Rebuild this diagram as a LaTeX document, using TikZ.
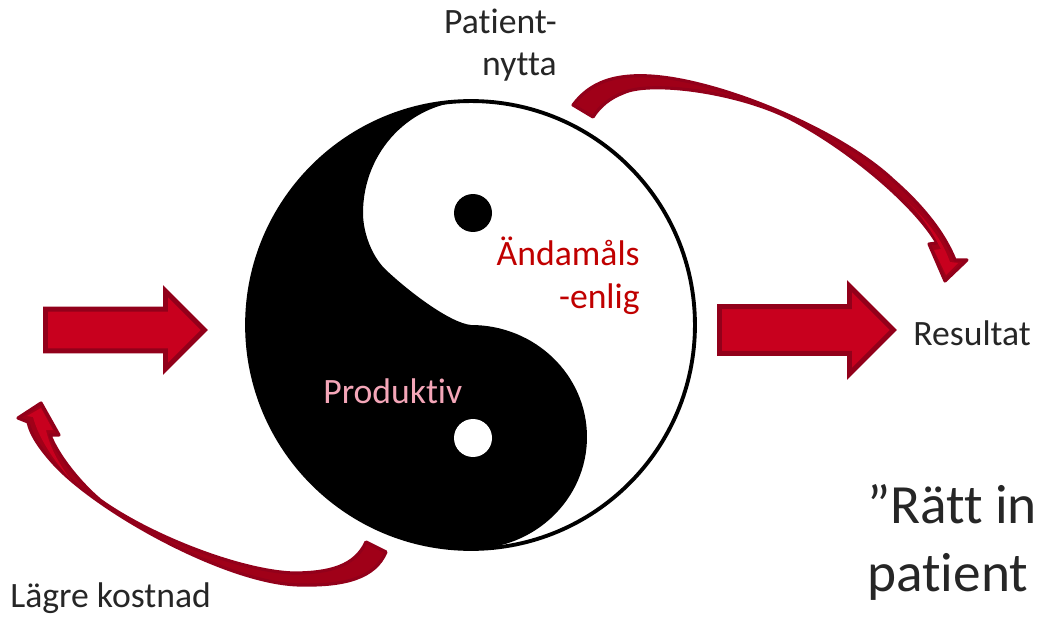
\documentclass[tikz,border=0pt]{standalone}
\usepackage{fontspec}
\setmainfont[Ligatures=NoCommon]{Carlito}
\usetikzlibrary{positioning,shapes.arrows}
\definecolor{arrowred}{HTML}{C8001E}
\definecolor{arrowdark}{HTML}{A00018}
\definecolor{arrowline}{HTML}{92001A}
\definecolor{labelgray}{HTML}{262626}
\definecolor{labelred}{HTML}{C00000}
\definecolor{labelpink}{HTML}{F4A6B8}
\tikzstyle{disc} = [circle, minimum size=8.96cm, inner sep=0pt, outer sep=0pt, draw=black, line width=2.2pt, fill=white]
\tikzstyle{eye} = [circle, minimum size=0.76cm, inner sep=0pt]
\tikzstyle{blockarrow} = [single arrow, single arrow tip angle=90, inner sep=0pt, draw=arrowline, line width=2.8pt, fill=arrowred, anchor=west]
\tikzstyle{bentarrow} = [draw=arrowline, line width=1.8pt, line join=round, fill=arrowdark]
\tikzstyle{benthead} = [fill=arrowred]
\tikzstyle{graylabel} = [inner sep=0pt, text=labelgray, font=\fontsize{20.3}{24}\selectfont]
\tikzstyle{disclabel} = [inner sep=0pt, font=\fontsize{20.3}{24}\selectfont]
\tikzstyle{biglabel} = [inner sep=0pt, text=labelgray, font=\fontsize{31.5}{38.5}\selectfont, align=left]
\def\rr{4.48}
\def\ttr{2.24}
\begin{document}
\begin{tikzpicture}[x=0.02cm, y=0.02cm]
\useasboundingbox (0,0) rectangle (1037,616);

\node (yinyang) [disc] at (471,291) {};
\fill (yinyang.north) arc[start angle=90, end angle=270, radius=\rr cm]
  arc[start angle=-90, end angle=90, x radius=2.32cm, y radius=\ttr cm]
  .. controls (450,293) and (408,325) .. (385,347)
  .. controls (372,360) and (363,383) .. (363,403)
  arc[start angle=180, end angle=90, x radius=2.16cm, y radius=\ttr cm];
\node (eyetop) [eye, fill=black] at (473,403) {};
\node (eyebottom) [eye, fill=white] at (473,178) {};

\node (arrowin) [blockarrow, single arrow head extend=0.36cm, inner ysep=0.37cm, minimum height=3.18cm] at (43,286) {};
\node (arrowout) [blockarrow, single arrow head extend=0.41cm, inner ysep=0.42cm, minimum height=3.48cm] at (717,286) {};

\draw [bentarrow] (573,511) .. controls (590,534) and (615,542) .. (650,540)
  .. controls (720,536) and (840,486) .. (893,436)
  .. controls (925,408) and (945,381) .. (955,356)
  -- (967,356) -- (945,335) -- (929,372) -- (937,373)
  .. controls (915,411) and (850,466) .. (793,496)
  .. controls (740,524) and (650,536) .. (623,523)
  .. controls (610,518) and (600,510) .. (593,499) -- cycle;
\fill [benthead] (908,414) .. controls (930,392) and (942,376) .. (950,354)
  -- (958,353) -- (946,341) -- (934,366) -- (941,367) .. controls (930,388) and (920,402) .. (908,414) -- cycle;

\draw [bentarrow] (386,64) .. controls (375,38) and (345,30) .. (300,31)
  .. controls (230,32) and (105,100) .. (57,149)
  .. controls (42,165) and (31,180) .. (28,194)
  -- (18,198) -- (41,213) -- (59,181) -- (50,181)
  .. controls (58,160) and (80,133) .. (100,116)
  .. controls (150,80) and (240,45) .. (293,43)
  .. controls (330,43) and (355,50) .. (366,74) -- cycle;
\fill [benthead] (72,135) .. controls (52,157) and (38,180) .. (33,199)
  -- (27,200) -- (41,208) -- (53,186) -- (46,186) .. controls (50,168) and (60,150) .. (72,135) -- cycle;

\node (nytta) [graylabel, align=right, anchor=base east] at (557,540) {Patient-\\nytta};
\node (resultat) [graylabel, anchor=base west] at (913,271) {Resultat};
\node (kostnad) [graylabel, anchor=base west] at (10,8.5) {Lägre kostnad};
\node (andamals) [disclabel, text=labelred, align=right, anchor=base east] at (640,308) {Ändamåls\\-enlig};
\node (produktiv) [disclabel, text=labelpink, anchor=base west] at (323,213) {Produktiv};
\node (ratt) [biglabel, anchor=base west] at (867,25) {”Rätt in\\patient};
\end{tikzpicture}
\end{document}
